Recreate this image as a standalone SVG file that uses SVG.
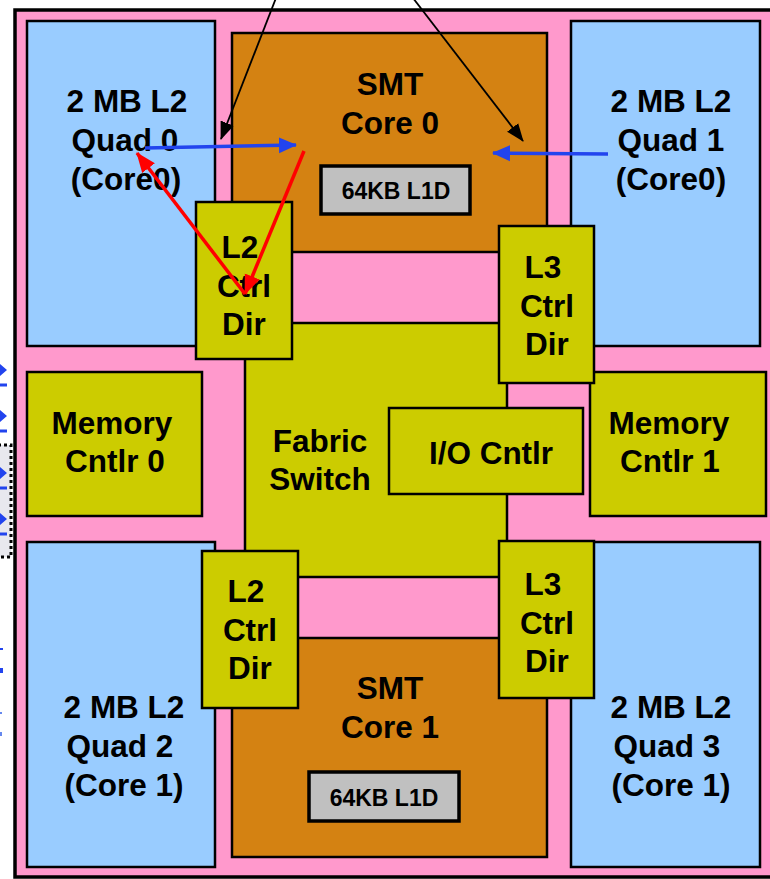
<svg xmlns="http://www.w3.org/2000/svg" width="770" height="879" viewBox="0 0 770 879">
<style>
.box{stroke:#000;stroke-width:2.5}
.quad{fill:#99ccff}
.core{fill:#d48212}
.olive{fill:#cccc00}
.l1{fill:#c0c0c0;stroke:#000;stroke-width:3.5}
text{font-family:"Liberation Sans",Arial,sans-serif;font-weight:bold;fill:#000;text-anchor:middle}
.big{font-size:31.5px}
.small{font-size:23px}
</style>
<defs>
<marker id="ab" markerUnits="userSpaceOnUse" markerWidth="18" markerHeight="18" viewBox="0 0 18 18" refX="17" refY="9" orient="auto"><path d="M0,2 L18,9 L0,16 Z" fill="#000"/></marker>
<marker id="ablue" markerUnits="userSpaceOnUse" markerWidth="18" markerHeight="18" viewBox="0 0 18 18" refX="17" refY="9" orient="auto"><path d="M0,1 L18,9 L0,17 Z" fill="#2244ee"/></marker>
<marker id="ared" markerUnits="userSpaceOnUse" markerWidth="20" markerHeight="18" viewBox="0 0 20 18" refX="19" refY="9" orient="auto"><path d="M0,1 L20,9 L0,17 Z" fill="#ff0000"/></marker>
</defs>
<rect width="770" height="879" fill="#fff"/>
<g id="left-fragments">
<rect x="-20" y="445" width="31" height="112" fill="#e8e8ee" stroke="#000" stroke-width="3" stroke-dasharray="3,3"/>
<path d="M0,364 L7,370 L0,376 Z M0,410 L7,416 L0,422 Z M0,467 L7,473 L0,479 Z M0,513 L7,519 L0,525 Z" fill="#2244ee"/>
<path d="M0,385 H7 M0,431 H7 M0,488 H7 M0,534 H7" stroke="#2244ee" stroke-width="3"/>
<rect x="0" y="648" width="3" height="2" fill="#2244ee"/>
<rect x="0" y="668" width="3" height="5" fill="#2244ee"/>
<rect x="0" y="712" width="2" height="2" fill="#6688ee"/>
<rect x="0" y="732" width="2" height="4" fill="#6688ee"/>
</g>
<rect id="die" x="15" y="10" width="800" height="867" fill="#ff99cc" stroke="#000" stroke-width="3.5"/>
<g id="quad0"><rect class="box quad" x="27" y="21" width="188" height="325"/><text class="big" x="127" y="112">2 MB L2</text><text class="big" x="125" y="151">Quad 0</text><text class="big" x="126" y="190">(Core0)</text></g>
<g id="quad1"><rect class="box quad" x="571" y="21" width="189" height="325"/><text class="big" x="671" y="112">2 MB L2</text><text class="big" x="671" y="151">Quad 1</text><text class="big" x="671" y="190">(Core0)</text></g>
<g id="quad2"><rect class="box quad" x="27" y="542" width="188" height="325"/><text class="big" x="124" y="718">2 MB L2</text><text class="big" x="120" y="757">Quad 2</text><text class="big" x="124" y="796">(Core 1)</text></g>
<g id="quad3"><rect class="box quad" x="571" y="542" width="189" height="325"/><text class="big" x="671" y="718">2 MB L2</text><text class="big" x="667" y="757">Quad 3</text><text class="big" x="671" y="796">(Core 1)</text></g>
<g id="core0"><rect class="box core" x="232" y="33" width="315" height="219"/><text class="big" x="390" y="95">SMT</text><text class="big" x="390" y="134">Core 0</text><rect class="l1" x="321" y="166" width="149" height="48"/><text class="small" x="396" y="199">64KB L1D</text></g>
<g id="core1"><rect class="box core" x="232" y="638" width="315" height="219"/><text class="big" x="390" y="699">SMT</text><text class="big" x="390" y="738">Core 1</text><rect class="l1" x="309" y="772" width="150" height="49"/><text class="small" x="384" y="806">64KB L1D</text></g>
<g id="fabric"><rect class="box olive" x="245" y="323" width="262" height="254"/><text class="big" x="320" y="452">Fabric</text><text class="big" x="320" y="490">Switch</text></g>
<g id="io"><rect class="box olive" x="389" y="408" width="194" height="86"/><text class="big" x="491" y="464">I/O Cntlr</text></g>
<g id="mem0"><rect class="box olive" x="27" y="372" width="175" height="144"/><text class="big" x="112" y="434">Memory</text><text class="big" x="115" y="472">Cntlr 0</text></g>
<g id="mem1"><rect class="box olive" x="590" y="372" width="176" height="144"/><text class="big" x="669" y="434">Memory</text><text class="big" x="670" y="472">Cntlr 1</text></g>
<g id="l2top"><rect class="box olive" x="196" y="202" width="96" height="157"/><text class="big" x="240" y="258">L2</text><text class="big" x="244" y="297">Ctrl</text><text class="big" x="244" y="335">Dir</text></g>
<g id="l3top"><rect class="box olive" x="499" y="226" width="95" height="157"/><text class="big" x="543" y="278">L3</text><text class="big" x="547" y="317">Ctrl</text><text class="big" x="547" y="355">Dir</text></g>
<g id="l2bot"><rect class="box olive" x="202" y="551" width="96" height="157"/><text class="big" x="246" y="602">L2</text><text class="big" x="250" y="641">Ctrl</text><text class="big" x="250" y="679">Dir</text></g>
<g id="l3bot"><rect class="box olive" x="499" y="541" width="95" height="157"/><text class="big" x="543" y="595">L3</text><text class="big" x="547" y="634">Ctrl</text><text class="big" x="547" y="672">Dir</text></g>
<g id="connectors" fill="none">
<line x1="276" y1="-2" x2="221" y2="139" stroke="#000" stroke-width="1.8" marker-end="url(#ab)"/>
<line x1="413" y1="-2" x2="523" y2="141" stroke="#000" stroke-width="1.8" marker-end="url(#ab)"/>
<line x1="145" y1="148" x2="296" y2="145" stroke="#2244ee" stroke-width="3.5" marker-end="url(#ablue)"/>
<line x1="608" y1="154" x2="493" y2="153" stroke="#2244ee" stroke-width="3.5" marker-end="url(#ablue)"/>
<line x1="304" y1="151" x2="245" y2="294" stroke="#ff0000" stroke-width="3.5" marker-end="url(#ared)"/>
<line x1="245" y1="294" x2="137" y2="153" stroke="#ff0000" stroke-width="3.5" marker-end="url(#ared)"/>
</g>
</svg>
